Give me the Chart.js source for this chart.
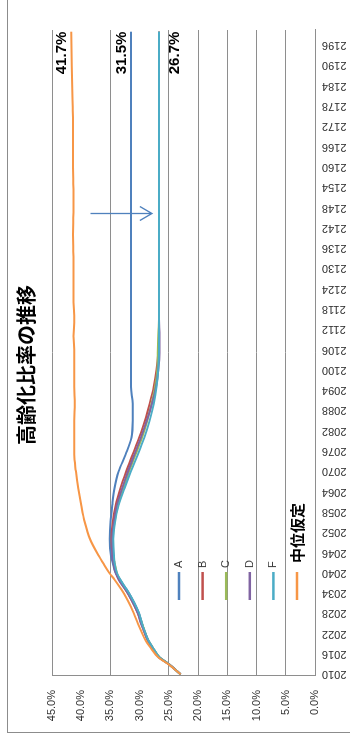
<!DOCTYPE html>
<html lang="ja">
<head>
<meta charset="utf-8">
<title>高齢化比率の推移</title>
<script src="https://cdn.jsdelivr.net/npm/chart.js@4.4.1/dist/chart.umd.min.js"></script>
<style>
  html, body { margin: 0; padding: 0; background: #fff; overflow: hidden; }
  body { width: 350px; height: 746px; position: relative; }
  /* the chart is laid out landscape and turned a quarter turn counter-clockwise */
  #wrap {
    position: absolute; left: 0; top: 0;
    width: 746px; height: 350px;
    transform-origin: 0 0;
    transform: translateY(746px) rotate(-90deg);
  }
  #chart { display: block; }
</style>
</head>
<body>
<div id="wrap"><canvas id="chart" width="746" height="350"></canvas></div>
<script>
// ---- data ----
const chartTitle = '高齢化比率の推移';
const seriesNames = ['A', 'B', 'C', 'D', 'F', '中位仮定'];

const years = [2010, 2013, 2015, 2018, 2020, 2023, 2025, 2028, 2030, 2033, 2035, 2038, 2040, 2043, 2045,
               2050, 2055, 2060, 2065, 2070, 2075, 2080, 2085, 2090, 2095, 2100, 2105, 2110, 2115, 2120,
               2130, 2140, 2150, 2160, 2170, 2180, 2190, 2200];

const seriesA = [23.0, 25.0, 26.6, 27.8, 28.5, 29.2, 29.6, 30.1, 30.6, 31.5, 32.2, 33.4, 34.1, 34.6, 34.9,
                 35.1, 35.0, 34.7, 34.3, 33.6, 32.4, 31.4, 31.2, 31.2, 31.5, 31.5, 31.5, 31.5, 31.5, 31.5,
                 31.5, 31.5, 31.5, 31.5, 31.5, 31.5, 31.5, 31.5];
const seriesB = [23.0, 25.0, 26.7, 27.9, 28.6, 29.3, 29.7, 30.3, 30.8, 31.7, 32.4, 33.5, 34.0, 34.4, 34.6,
                 34.8, 34.6, 34.1, 33.3, 32.3, 31.2, 30.1, 29.1, 28.3, 27.6, 27.1, 26.8, 26.7, 26.7, 26.7,
                 26.7, 26.7, 26.7, 26.7, 26.7, 26.7, 26.7, 26.7];
const seriesC = [23.0, 25.0, 26.6, 27.8, 28.5, 29.2, 29.6, 30.2, 30.7, 31.6, 32.3, 33.4, 33.9, 34.3, 34.5,
                 34.6, 34.3, 33.7, 32.8, 31.8, 30.7, 29.6, 28.7, 28.0, 27.4, 27.0, 26.9, 26.8, 26.7, 26.7,
                 26.7, 26.7, 26.7, 26.7, 26.7, 26.7, 26.7, 26.7];
const seriesD = [23.0, 25.0, 26.7, 27.9, 28.6, 29.3, 29.8, 30.3, 30.8, 31.7, 32.4, 33.6, 34.1, 34.5, 34.7,
                 34.7, 34.4, 33.9, 33.0, 32.0, 30.9, 29.8, 28.8, 27.9, 27.2, 26.8, 26.6, 26.6, 26.7, 26.7,
                 26.7, 26.7, 26.7, 26.7, 26.7, 26.7, 26.7, 26.7];
const seriesF = [23.0, 25.0, 26.6, 27.8, 28.5, 29.2, 29.6, 30.1, 30.6, 31.5, 32.2, 33.3, 33.9, 34.3, 34.4,
                 34.5, 34.2, 33.6, 32.6, 31.5, 30.3, 29.2, 28.3, 27.6, 27.1, 26.8, 26.7, 26.7, 26.7, 26.7,
                 26.7, 26.7, 26.7, 26.7, 26.7, 26.7, 26.7, 26.7];
const seriesMedium = [23.0, 25.1, 26.8, 28.2, 29.0, 29.8, 30.3, 31.0, 31.5, 32.4, 33.1, 34.3, 35.2, 36.3, 37.0,
                      38.5, 39.4, 40.0, 40.5, 40.9, 41.2, 41.2, 41.2, 41.1, 41.2, 41.2, 41.2, 41.3, 41.2, 41.3,
                      41.3, 41.4, 41.3, 41.4, 41.4, 41.5, 41.6, 41.7];

const yearTicks = [2010, 2016, 2022, 2028, 2034, 2040, 2046, 2052, 2058, 2064, 2070, 2076, 2082, 2088, 2094,
                   2100, 2106, 2112, 2118, 2124, 2130, 2136, 2142, 2148, 2154, 2160, 2166, 2172, 2178, 2184,
                   2190, 2196];
const percentTicks = [0, 5, 10, 15, 20, 25, 30, 35, 40, 45];

// arrow drawn across the gap between scenario A and the others (year, from %, to %)
const arrowNote = { year: 2146, from: 38.4, to: 27.9 };

// ---- styling ----
const colors = ['#4F81BD', '#C0504D', '#9BBB59', '#8064A2', '#4BACC6', '#F79646'];
const allSeries = [seriesA, seriesB, seriesC, seriesD, seriesF, seriesMedium];
// series that carry their final value as a label, with vertical offset of the label
const endLabels = [{ index: 5, dy: -9 }, { index: 0, dy: -9 }, { index: 4, dy: 16 }];
const gridColor = '#8e8e8e';
const tickColor = '#333';
const latinFont = "'Liberation Sans', Arial, sans-serif";
const cjkFont = "'Noto Sans CJK JP', 'Noto Sans', sans-serif";

const datasets = allSeries.map((vals, i) => ({
  label: seriesNames[i],
  data: years.map((x, k) => ({ x: x, y: vals[k] })),
  borderColor: colors[i],
  backgroundColor: colors[i],
  borderWidth: 2,
  pointRadius: 0,
  fill: false,
  cubicInterpolationMode: 'monotone',
  // later series are painted over earlier ones
  order: allSeries.length - 1 - i
}));

const overlay = {
  id: 'overlay',
  beforeDraw(chart) {
    const c = chart.ctx;
    c.save();
    c.fillStyle = '#fff';
    c.fillRect(0, 0, chart.width, chart.height);
    c.strokeStyle = '#8c8c8c';
    c.lineWidth = 1;
    c.strokeRect(13.5, 7.5, chart.width + 20, chart.height + 20);
    c.restore();
  },
  afterDatasetsDraw(chart) {
    const c = chart.ctx;
    const xs = chart.scales.x, ys = chart.scales.y;
    c.save();
    // end-of-series value labels
    c.font = 'bold 15px ' + latinFont;
    c.fillStyle = '#000';
    c.textAlign = 'right';
    c.textBaseline = 'middle';
    endLabels.forEach(({ index, dy }) => {
      const meta = chart.getDatasetMeta(index);
      const pt = meta.data[meta.data.length - 1];
      const vals = allSeries[index];
      c.fillText(vals[vals.length - 1].toFixed(1) + '%', pt.x, pt.y + dy);
    });
    // arrow
    const ax = Math.round(xs.getPixelForValue(arrowNote.year)) + 0.5;
    const a0 = ys.getPixelForValue(arrowNote.from);
    const a1 = ys.getPixelForValue(arrowNote.to);
    c.strokeStyle = '#4F81BD';
    c.lineWidth = 1.3;
    c.beginPath();
    c.moveTo(ax, a0);
    c.lineTo(ax, a1);
    c.moveTo(ax - 7, a1 - 12);
    c.lineTo(ax, a1);
    c.lineTo(ax + 7, a1 - 12);
    c.stroke();
    c.restore();
  },
  afterDraw(chart) {
    const c = chart.ctx;
    c.save();
    // title
    c.fillStyle = '#000';
    c.font = 'bold 20px ' + cjkFont;
    c.textAlign = 'center';
    c.textBaseline = 'middle';
    c.fillText(chartTitle, 381, 26);
    // legend, stacked inside the plot
    c.textAlign = 'left';
    chart.data.datasets.forEach((ds, i) => {
      const y = 179 + i * 23.6;
      c.strokeStyle = ds.borderColor;
      c.lineWidth = 2.5;
      c.beginPath();
      c.moveTo(146, y);
      c.lineTo(174, y);
      c.stroke();
      const wide = /[^\x00-\x7F]/.test(ds.label);
      c.fillStyle = wide ? '#000' : '#404040';
      c.font = wide ? 'bold 15px ' + cjkFont : '11px ' + latinFont;
      c.fillText(ds.label, wide ? 183 : 178, y);
    });
    c.restore();
  }
};

new Chart(document.getElementById('chart'), {
  type: 'line',
  data: { datasets: datasets },
  options: {
    responsive: false,
    animation: false,
    events: [],
    layout: { padding: { top: 52, right: 30, left: 0, bottom: 0 } },
    plugins: {
      legend: { display: false },
      title: { display: false },
      tooltip: { enabled: false }
    },
    scales: {
      x: {
        type: 'linear',
        min: 2009.5,
        max: 2200.5,
        bounds: 'data',
        grid: { display: false, drawTicks: false },
        border: { display: true, color: gridColor, width: 1 },
        afterBuildTicks: (s) => { s.ticks = yearTicks.map(v => ({ value: v })); },
        afterFit: (s) => { s.height = 35; },
        ticks: {
          autoSkip: false,
          minRotation: 90,
          maxRotation: 90,
          padding: 7,
          color: tickColor,
          font: { family: latinFont, size: 11 },
          callback: (v) => String(v)
        }
      },
      y: {
        min: 0,
        max: 45,
        afterBuildTicks: (s) => { s.ticks = percentTicks.map(v => ({ value: v })); },
        afterFit: (s) => { s.width = 70; },
        grid: {
          drawTicks: false,
          lineWidth: 1,
          // the 30% and 40% rules are not drawn
          color: (ctx) => (ctx.tick && (ctx.tick.value === 30 || ctx.tick.value === 40)) ? 'rgba(0,0,0,0)' : gridColor
        },
        border: { display: true, color: gridColor, width: 1 },
        ticks: {
          padding: 14,
          color: tickColor,
          font: { family: latinFont, size: 11 },
          callback: (v) => Number(v).toFixed(1) + '%'
        }
      }
    }
  },
  plugins: [overlay]
});
</script>
</body>
</html>
